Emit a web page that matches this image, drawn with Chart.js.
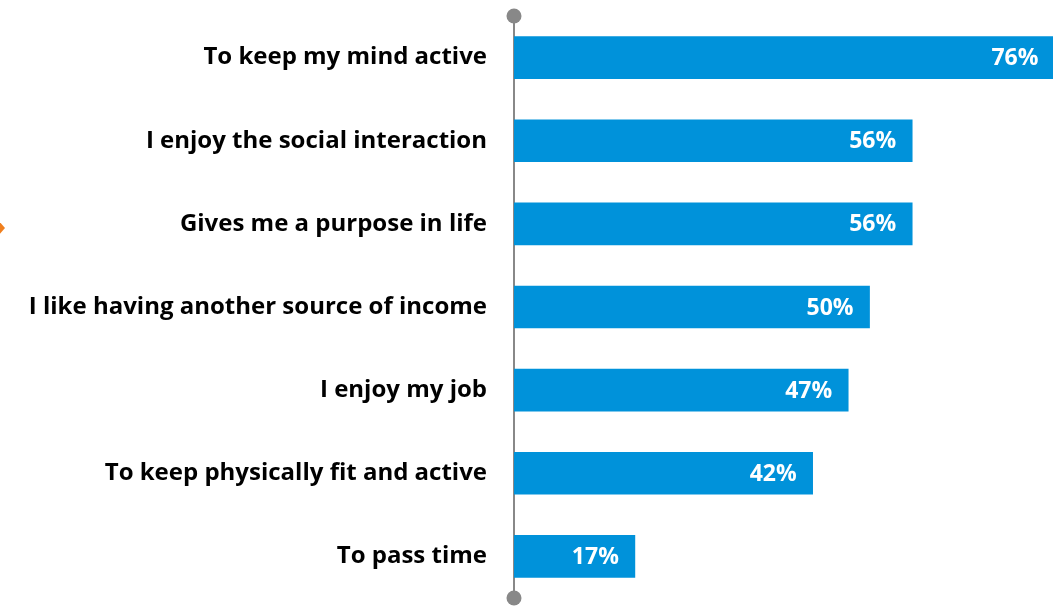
<!DOCTYPE html>
<html>
<head>
<meta charset="utf-8">
<script src="https://cdn.jsdelivr.net/npm/chart.js@4"></script>
<style>
  html, body { margin: 0; padding: 0; background: #fff; }
  #wrap { width: 1053px; height: 606px; }
</style>
</head>
<body>
<div id="wrap"><canvas id="reasons"></canvas></div>
<script>
// Reasons for working, share of respondents
const categories = [
  'To keep my mind active',
  'I enjoy the social interaction',
  'Gives me a purpose in life',
  'I like having another source of income',
  'I enjoy my job',
  'To keep physically fit and active',
  'To pass time'
];
const shares = [76, 56, 56, 50, 47, 42, 17];

const barBlue = '#0092DA';
const axisGrey = '#888888';
const labelFont = '"Open Sans", Lato, sans-serif';

// value labels drawn inside the bar ends, plus the axis end dots and the side marker
const decorations = {
  id: 'decorations',
  afterDatasetsDraw(chart) {
    const ctx = chart.ctx;
    const meta = chart.getDatasetMeta(0);
    ctx.save();
    ctx.fillStyle = '#ffffff';
    ctx.font = 'bold 23px ' + labelFont;
    ctx.textAlign = 'right';
    ctx.textBaseline = 'middle';
    meta.data.forEach((bar, i) => {
      ctx.fillText(shares[i] + '%', bar.x - 16, bar.y + 1);
    });
    ctx.restore();
  },
  afterDraw(chart) {
    const ctx = chart.ctx;
    const area = chart.chartArea;
    ctx.save();
    ctx.fillStyle = axisGrey;
    [area.top, area.bottom].forEach(y => {
      ctx.beginPath();
      ctx.arc(area.left, y, 7.5, 0, Math.PI * 2);
      ctx.fill();
    });
    // small orange pointer at the left edge
    ctx.fillStyle = '#F07F1E';
    ctx.beginPath();
    ctx.moveTo(-2, 220);
    ctx.lineTo(5, 228);
    ctx.lineTo(-2, 236);
    ctx.closePath();
    ctx.fill();
    ctx.restore();
  }
};

new Chart(document.getElementById('reasons'), {
  type: 'bar',
  data: {
    labels: categories,
    datasets: [{
      data: shares,
      backgroundColor: barBlue,
      barThickness: 42
    }]
  },
  options: {
    indexAxis: 'y',
    responsive: true,
    maintainAspectRatio: false,
    animation: false,
    layout: { padding: { top: 16, bottom: 8, left: 0, right: 0 } },
    plugins: {
      legend: { display: false },
      tooltip: { enabled: false }
    },
    scales: {
      x: {
        display: false,
        min: 0,
        max: 75.8
      },
      y: {
        afterFit(scale) {
          scale.width = 514;
          // keep the tick padding from pushing the plot area inwards
          scale.paddingTop = 0;
          scale.paddingBottom = 0;
        },
        grid: { display: false, drawTicks: false },
        border: { display: true, color: axisGrey, width: 2 },
        ticks: {
          padding: 27,
          color: '#000000',
          font: { family: labelFont, size: 24, weight: 'bold' }
        }
      }
    }
  },
  plugins: [decorations]
});
</script>
</body>
</html>
